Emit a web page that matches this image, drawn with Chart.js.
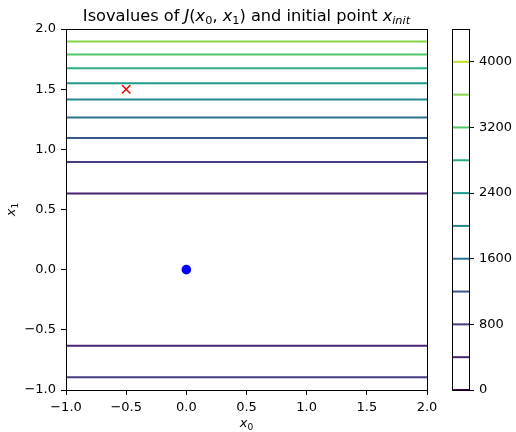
<!DOCTYPE html>
<html>
<head>
<meta charset="utf-8">
<script src="https://cdn.jsdelivr.net/npm/chart.js@4.4.1/dist/chart.umd.min.js"></script>
<style>
  html, body { margin: 0; padding: 0; background: #fff; }
  #wrap { position: relative; width: 516px; height: 432px; }
  #main { position: absolute; left: 0; top: 0; }
  #cbar { position: absolute; left: 440px; top: 0; }
</style>
</head>
<body>
<div id="wrap">
  <canvas id="main" width="516" height="432"></canvas>
  <canvas id="cbar" width="76" height="432"></canvas>
</div>
<script>
// ---------------- data ----------------
const contourLevels = [400, 800, 1200, 1600, 2000, 2400, 2800, 3200, 3600, 4000, 400, 800];
const contourX1     = [0.632, 0.894, 1.095, 1.265, 1.414, 1.549, 1.673, 1.789, 1.897, 2.0, -0.632, -0.894];
const xRange = [-1.0, 2.0];
const initPoint = [-0.5, 1.5];
const optimumPoint = [0.0, 0.0];
const xTickValues = [-1.0, -0.5, 0.0, 0.5, 1.0, 1.5, 2.0];
const yTickValues = [-1.0, -0.5, 0.0, 0.5, 1.0, 1.5, 2.0];
const cbarLevels = [0, 400, 800, 1200, 1600, 2000, 2400, 2800, 3200, 3600, 4000, 4400];
const cbarTickValues = [0, 800, 1600, 2400, 3200, 4000];
const titleParts = [
  {t: "Isovalues of "}, {t: "J", it: true}, {t: "("}, {t: "x", it: true}, {t: "0", sub: true},
  {t: ", "}, {t: "x", it: true}, {t: "1", sub: true}, {t: ") and initial point "},
  {t: "x", it: true}, {t: "init", sub: true, it: true}
];
const xLabelParts = [{t: "x", it: true}, {t: "0", sub: true}];
const yLabelParts = [{t: "x", it: true}, {t: "1", sub: true}];

// viridis colours for the contour levels (normalised 0..4400)
const levelColors = {
  0: "#440154", 400: "#482374", 800: "#433e85", 1200: "#38588c", 1600: "#2d708e",
  2000: "#25858e", 2400: "#1e9b8a", 2800: "#2ab07f", 3200: "#52c569", 3600: "#86d549",
  4000: "#c2df23", 4400: "#fde725"
};

const FONT = "DejaVu Sans";
const fmt = v => (Math.abs(v) < 1e-9 ? "0.0" : v.toFixed(1)).replace("-", "\u2212");

function drawParts(ctx, parts, size, cx, baseline) {
  const w = parts.map(p => {
    const s = p.sub ? size * 0.7 : size;
    ctx.font = (p.it ? "italic " : "") + s + "px '" + FONT + "'";
    return ctx.measureText(p.t).width;
  });
  const total = w.reduce((a, b) => a + b, 0);
  let x = cx - total / 2;
  ctx.textAlign = "left";
  ctx.textBaseline = "alphabetic";
  ctx.fillStyle = "#000";
  parts.forEach((p, i) => {
    const s = p.sub ? size * 0.7 : size;
    ctx.font = (p.it ? "italic " : "") + s + "px '" + FONT + "'";
    ctx.fillText(p.t, x, baseline + (p.sub ? size * 0.22 : 0));
    x += w[i];
  });
}

// ---------------- main chart ----------------
const datasets = contourX1.map((y, i) => ({
  type: "line",
  data: [{x: xRange[0], y: y}, {x: xRange[1], y: y}],
  borderColor: levelColors[contourLevels[i]],
  borderWidth: 2,
  pointRadius: 0,
  fill: false,
  clip: 0
}));
datasets.push({
  type: "scatter",
  data: [{x: initPoint[0], y: initPoint[1]}],
  pointStyle: "crossRot",
  pointRadius: 6,
  borderColor: "#ff0000",
  backgroundColor: "#ff0000",
  borderWidth: 1.5
});
datasets.push({
  type: "scatter",
  data: [{x: optimumPoint[0], y: optimumPoint[1]}],
  pointStyle: "circle",
  pointRadius: 4.8,
  borderColor: "#0000ff",
  backgroundColor: "#0000ff",
  borderWidth: 0
});

const framePlugin = {
  id: "frame",
  afterDatasetsDraw(chart) {
    const {ctx, chartArea: a} = chart;
    ctx.save();
    ctx.strokeStyle = "#000";
    ctx.lineWidth = 1;
    ctx.strokeRect(Math.round(a.left) + 0.5, Math.round(a.top) + 0.5,
                   Math.round(a.right - a.left), Math.round(a.bottom - a.top));
    ctx.restore();
  },
  afterDraw(chart) {
    const {ctx, chartArea: a} = chart;
    ctx.save();
    const cx = (a.left + a.right) / 2;
    drawParts(ctx, titleParts, 16.2, cx, 20.5);
    drawParts(ctx, xLabelParts, 13, cx, 427);
    ctx.translate(15, (a.top + a.bottom) / 2);
    ctx.rotate(-Math.PI / 2);
    drawParts(ctx, yLabelParts, 13, 0, 0);
    ctx.restore();
  }
};

const axisCommon = {
  type: "linear",
  grid: { display: true, drawOnChartArea: false, drawTicks: true, tickLength: 5, tickWidth: 1, tickColor: "#000" },
  border: { display: true, color: "#000", width: 1 },
  ticks: { color: "#000", font: { family: FONT, size: 13 }, padding: 5, callback: v => fmt(v) }
};

new Chart(document.getElementById("main"), {
  data: { datasets },
  options: {
    responsive: false,
    animation: false,
    events: [],
    layout: { padding: { left: 0, right: 89, top: 29, bottom: 0 } },
    plugins: { legend: { display: false }, tooltip: { enabled: false }, title: { display: false } },
    scales: {
      x: Object.assign({}, axisCommon, {
        min: xRange[0], max: xRange[1],
        afterBuildTicks: s => { s.ticks = xTickValues.map(v => ({value: v})); },
        afterFit: s => { s.height = 42; }
      }),
      y: Object.assign({}, axisCommon, {
        min: -1.0, max: 2.0,
        afterBuildTicks: s => { s.ticks = yTickValues.map(v => ({value: v})); },
        afterFit: s => { s.width = 66; }
      })
    }
  },
  plugins: [framePlugin]
});

// ---------------- colour bar ----------------
const cbDatasets = cbarLevels.map(l => ({
  type: "line",
  data: [{x: 0, y: l}, {x: 1, y: l}],
  borderColor: levelColors[l],
  borderWidth: 2,
  pointRadius: 0,
  clip: 0
}));

new Chart(document.getElementById("cbar"), {
  data: { datasets: cbDatasets },
  options: {
    responsive: false,
    animation: false,
    events: [],
    layout: { padding: { left: 12, right: 0, top: 29, bottom: 42 } },
    plugins: { legend: { display: false }, tooltip: { enabled: false } },
    scales: {
      x: { type: "linear", min: 0, max: 1, display: false },
      y: {
        type: "linear", position: "right", min: 0, max: 4400,
        grid: { display: true, drawOnChartArea: false, drawTicks: true, tickLength: 5, tickWidth: 1, tickColor: "#000" },
        border: { display: true, color: "#000", width: 1 },
        ticks: { color: "#000", font: { family: FONT, size: 13 }, padding: 5, callback: v => String(v) },
        afterBuildTicks: s => { s.ticks = cbarTickValues.map(v => ({value: v})); },
        afterFit: s => { s.width = 47; }
      }
    }
  },
  plugins: [{
    id: "cbframe",
    afterDatasetsDraw(chart) {
      const {ctx, chartArea: a} = chart;
      ctx.save();
      ctx.strokeStyle = "#000";
      ctx.lineWidth = 1;
      ctx.strokeRect(Math.round(a.left) + 0.5, Math.round(a.top) + 0.5,
                     Math.round(a.right - a.left), Math.round(a.bottom - a.top));
      ctx.restore();
    }
  }]
});
</script>
</body>
</html>
